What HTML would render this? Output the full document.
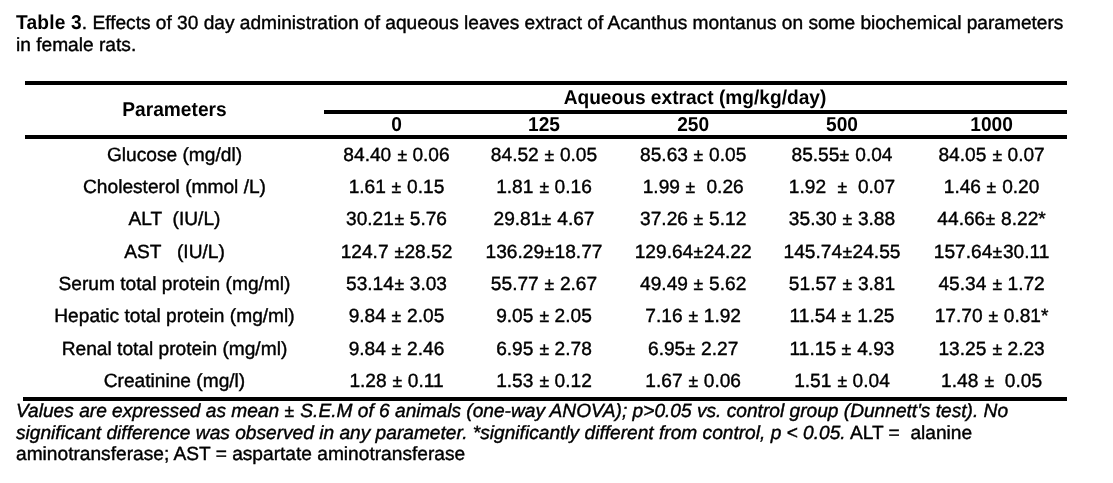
<!DOCTYPE html>
<html><head><meta charset="utf-8"><style>
html,body{margin:0;padding:0;background:#fff;}
body{width:1113px;height:483px;position:relative;overflow:hidden;font-family:'Liberation Sans', Arial, sans-serif;font-size:19.15px;color:#000;filter:grayscale(1);text-rendering:geometricPrecision;}
.t{position:absolute;white-space:pre;line-height:20px;letter-spacing:0px;-webkit-text-stroke:0.4px #000;}
.c{text-align:center;}
.b{transform:scaleY(1.05);transform-origin:0 15px;}
.t b{display:inline-block;transform:scaleY(1.05);transform-origin:0 16px;}
.t b,.b{font-weight:bold;-webkit-text-stroke:0px #000;}
.r{position:absolute;background:#000;}
.pm{display:inline-block;transform:scale(0.92,0.92);transform-origin:50% 16px;}
</style></head><body>
<div class="t " style="left:16.00px;top:14.00px"><b style='letter-spacing:0.18px'>Table 3</b><span style='letter-spacing:-0.01px'>. Effects of 30 day administration of aqueous leaves extract of Acanthus montanus on some biochemical parameters</span></div>
<div class="t " style="left:16.00px;top:36.00px">in female rats.</div>
<div class="r" style="left:25px;top:81px;width:1042px;height:4px"></div>
<div class="r" style="left:324px;top:110px;width:743px;height:4px"></div>
<div class="r" style="left:25px;top:135px;width:1042px;height:4px"></div>
<div class="r" style="left:23px;top:397px;width:1044px;height:4px"></div>
<div class="t c b" style="left:54.50px;top:101.00px;width:240px">Parameters</div>
<div class="t c b" style="left:495.00px;top:89.00px;width:400px">Aqueous extract (mg/kg/day)</div>
<div class="t c b" style="left:326.50px;top:116.00px;width:140px">0</div>
<div class="t c b" style="left:474.00px;top:116.00px;width:140px">125</div>
<div class="t c b" style="left:623.20px;top:116.00px;width:140px">250</div>
<div class="t c b" style="left:772.00px;top:116.00px;width:140px">500</div>
<div class="t c b" style="left:921.60px;top:116.00px;width:140px">1000</div>
<div class="t c " style="left:25.50px;top:146.00px;width:298px">Glucose (mg/dl)</div>
<div class="t c " style="left:322.50px;top:146.00px;width:148px">84.40 <span class="pm">±</span> 0.06</div>
<div class="t c " style="left:470.00px;top:146.00px;width:148px">84.52 <span class="pm">±</span> 0.05</div>
<div class="t c " style="left:619.20px;top:146.00px;width:148px">85.63 <span class="pm">±</span> 0.05</div>
<div class="t c " style="left:768.00px;top:146.00px;width:148px">85.55<span class="pm">±</span> 0.04</div>
<div class="t c " style="left:917.60px;top:146.00px;width:148px">84.05 <span class="pm">±</span> 0.07</div>
<div class="t c " style="left:25.50px;top:178.00px;width:298px">Cholesterol (mmol /L)</div>
<div class="t c " style="left:322.50px;top:178.00px;width:148px">1.61 <span class="pm">±</span> 0.15</div>
<div class="t c " style="left:470.00px;top:178.00px;width:148px">1.81 <span class="pm">±</span> 0.16</div>
<div class="t c " style="left:619.20px;top:178.00px;width:148px">1.99 <span class="pm">±</span>  0.26</div>
<div class="t c " style="left:768.00px;top:178.00px;width:148px">1.92  <span class="pm">±</span>  0.07</div>
<div class="t c " style="left:917.60px;top:178.00px;width:148px">1.46 <span class="pm">±</span> 0.20</div>
<div class="t c " style="left:25.50px;top:210.00px;width:298px">ALT  (IU/L)</div>
<div class="t c " style="left:322.50px;top:210.00px;width:148px">30.21<span class="pm">±</span> 5.76</div>
<div class="t c " style="left:470.00px;top:210.00px;width:148px">29.81<span class="pm">±</span> 4.67</div>
<div class="t c " style="left:619.20px;top:210.00px;width:148px">37.26 <span class="pm">±</span> 5.12</div>
<div class="t c " style="left:768.00px;top:210.00px;width:148px">35.30 <span class="pm">±</span> 3.88</div>
<div class="t c " style="left:917.60px;top:210.00px;width:148px">44.66<span class="pm">±</span> 8.22*</div>
<div class="t c " style="left:25.50px;top:243.00px;width:298px">AST   (IU/L)</div>
<div class="t c " style="left:322.50px;top:243.00px;width:148px">124.7 <span class="pm">±</span>28.52</div>
<div class="t c " style="left:470.00px;top:243.00px;width:148px">136.29<span class="pm">±</span>18.77</div>
<div class="t c " style="left:619.20px;top:243.00px;width:148px">129.64<span class="pm">±</span>24.22</div>
<div class="t c " style="left:768.00px;top:243.00px;width:148px">145.74<span class="pm">±</span>24.55</div>
<div class="t c " style="left:917.60px;top:243.00px;width:148px">157.64<span class="pm">±</span>30.11</div>
<div class="t c " style="left:25.50px;top:275.00px;width:298px">Serum total protein (mg/ml)</div>
<div class="t c " style="left:322.50px;top:275.00px;width:148px">53.14<span class="pm">±</span> 3.03</div>
<div class="t c " style="left:470.00px;top:275.00px;width:148px">55.77 <span class="pm">±</span> 2.67</div>
<div class="t c " style="left:619.20px;top:275.00px;width:148px">49.49 <span class="pm">±</span> 5.62</div>
<div class="t c " style="left:768.00px;top:275.00px;width:148px">51.57 <span class="pm">±</span> 3.81</div>
<div class="t c " style="left:917.60px;top:275.00px;width:148px">45.34 <span class="pm">±</span> 1.72</div>
<div class="t c " style="left:25.50px;top:307.00px;width:298px">Hepatic total protein (mg/ml)</div>
<div class="t c " style="left:322.50px;top:307.00px;width:148px">9.84 <span class="pm">±</span> 2.05</div>
<div class="t c " style="left:470.00px;top:307.00px;width:148px">9.05 <span class="pm">±</span> 2.05</div>
<div class="t c " style="left:619.20px;top:307.00px;width:148px">7.16 <span class="pm">±</span> 1.92</div>
<div class="t c " style="left:768.00px;top:307.00px;width:148px">11.54 <span class="pm">±</span> 1.25</div>
<div class="t c " style="left:917.60px;top:307.00px;width:148px">17.70 <span class="pm">±</span> 0.81*</div>
<div class="t c " style="left:25.50px;top:340.00px;width:298px">Renal total protein (mg/ml)</div>
<div class="t c " style="left:322.50px;top:340.00px;width:148px">9.84 <span class="pm">±</span> 2.46</div>
<div class="t c " style="left:470.00px;top:340.00px;width:148px">6.95 <span class="pm">±</span> 2.78</div>
<div class="t c " style="left:619.20px;top:340.00px;width:148px">6.95<span class="pm">±</span> 2.27</div>
<div class="t c " style="left:768.00px;top:340.00px;width:148px">11.15 <span class="pm">±</span> 4.93</div>
<div class="t c " style="left:917.60px;top:340.00px;width:148px">13.25 <span class="pm">±</span> 2.23</div>
<div class="t c " style="left:25.50px;top:372.00px;width:298px">Creatinine (mg/l)</div>
<div class="t c " style="left:322.50px;top:372.00px;width:148px">1.28 <span class="pm">±</span> 0.11</div>
<div class="t c " style="left:470.00px;top:372.00px;width:148px">1.53 <span class="pm">±</span> 0.12</div>
<div class="t c " style="left:619.20px;top:372.00px;width:148px">1.67 <span class="pm">±</span> 0.06</div>
<div class="t c " style="left:768.00px;top:372.00px;width:148px">1.51 <span class="pm">±</span> 0.04</div>
<div class="t c " style="left:917.60px;top:372.00px;width:148px">1.48 <span class="pm">±</span>  0.05</div>
<div class="t " style="left:16.00px;top:402.00px"><i>Values are expressed as mean <span class="pm">±</span> S.E.M of 6 animals (one-way ANOVA); p&gt;0.05 vs. control group (Dunnett's test). No</i></div>
<div class="t " style="left:16.00px;top:424.00px"><i>significant difference was observed in any parameter. *significantly different from control, p &lt; 0.05.</i> ALT =  alanine</div>
<div class="t " style="left:16.00px;top:445.00px">aminotransferase; AST = aspartate aminotransferase</div>
</body></html>
